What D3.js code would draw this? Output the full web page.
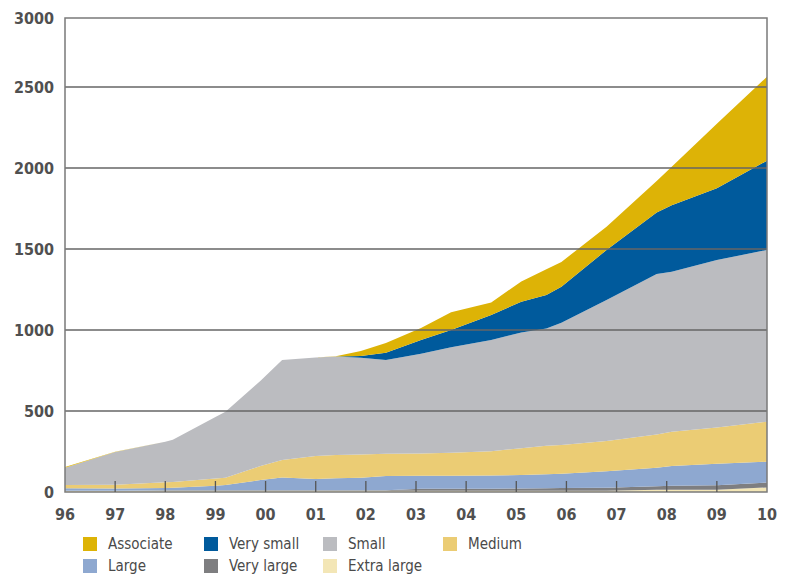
<!DOCTYPE html>
<html>
<head>
<meta charset="utf-8">
<script src="https://cdn.jsdelivr.net/npm/d3@7"></script>
<style>
  html, body { margin: 0; padding: 0; background: #fff; }
  svg { display: block; }
</style>
</head>
<body>
<svg id="chart" width="793" height="577"></svg>
<script>
// ---- Data ----
const years = [1996, 1997, 1998, 1998.15, 1999, 1999.2, 1999.9, 2000.33, 2001, 2001.4, 2001.9, 2002.4,
               2003.1, 2003.7, 2004.5, 2005.1, 2005.6, 2005.9, 2006.8, 2007.8, 2008.1, 2009, 2010];
const extraLarge = [8, 8, 8, 8, 8, 8, 8, 8, 8, 8, 8, 8, 8, 8, 8, 8, 8, 8, 8, 14, 14, 14, 28];
const veryLarge  = [0, 0, 3, 3, 3, 3, 3, 3, 3, 3, 3, 3, 12, 12, 12, 14, 15, 16, 18, 22, 25, 28, 30];
const large      = [15, 14, 14, 16, 27, 32, 63, 79, 69, 74, 77, 87, 80, 80, 82, 83, 87, 88, 102, 114, 121, 133, 129];
const medium     = [20, 23, 35, 35, 46, 45, 86, 108, 142, 143, 144, 138, 138, 143, 150, 165, 175, 178, 187, 205, 212, 223, 247];
const small      = [107, 202, 250, 260, 379, 408, 527, 617, 609, 608, 596, 579, 616, 650, 686, 715, 725, 755, 870, 991, 988, 1034, 1060];
const verySmall  = [0, 0, 0, 0, 0, 0, 0, 0, 0, 0, 12, 45, 84, 107, 155, 190, 206, 222, 309, 379, 410, 443, 551];
const associate  = [4, 1, 0, 0, 0, 0, 0, 0, 0, 2, 30, 60, 74, 110, 77, 125, 159, 153, 144, 195, 238, 398, 529];

const seriesNames = ["Extra large", "Very large", "Large", "Medium", "Small", "Very small", "Associate"];
const seriesColors = ["#F3E6B6", "#7E7E80", "#8EA8D0", "#EBCC74", "#BBBCC0", "#005A9C", "#DDB306"];
const seriesValues = [extraLarge, veryLarge, large, medium, small, verySmall, associate];

const xTickYears = [1996, 1997, 1998, 1999, 2000, 2001, 2002, 2003, 2004, 2005, 2006, 2007, 2008, 2009, 2010];
const xTickLabels = ["96", "97", "98", "99", "00", "01", "02", "03", "04", "05", "06", "07", "08", "09", "10"];
const yTicks = [0, 500, 1000, 1500, 2000, 2500, 3000];

const legendRows = [
  ["Associate", "Very small", "Small", "Medium"],
  ["Large", "Very large", "Extra large"]
];

(function () {
  const table = years.map((yr, i) => {
    const row = { year: yr };
    seriesNames.forEach((n, k) => { row[n] = seriesValues[k][i]; });
    return row;
  });

  const svg = d3.select("#chart");
  const pLeft = 65, pRight = 767, pTop = 18, pBottom = 492;

  const x = d3.scaleLinear().domain([1996, 2010]).range([pLeft, pRight]);
  const y = d3.scaleLinear().domain([0, 2500, 3000]).range([pBottom, 87, pTop]);

  const layers = d3.stack().keys(seriesNames)(table);

  const area = d3.area()
    .x(d => x(d.data.year))
    .y0(d => y(d[0]))
    .y1(d => y(d[1]));

  const colorOf = n => seriesColors[seriesNames.indexOf(n)];

  svg.append("g").selectAll("path")
    .data(layers)
    .join("path")
    .attr("d", area)
    .attr("fill", d => colorOf(d.key));

  // Gridlines (on top of areas)
  svg.append("g").selectAll("line")
    .data(yTicks.filter(v => v > 0 && v < 3000))
    .join("line")
    .attr("x1", pLeft).attr("x2", pRight)
    .attr("y1", d => y(d)).attr("y2", d => y(d))
    .attr("stroke", "#666").attr("stroke-width", 1.3);

  // Frame
  svg.append("rect")
    .attr("x", pLeft).attr("y", pTop)
    .attr("width", pRight - pLeft).attr("height", pBottom - pTop)
    .attr("fill", "none").attr("stroke", "#7a7a7a").attr("stroke-width", 1.5);

  // X ticks (inward, pointing up)
  svg.append("g").selectAll("line")
    .data(xTickYears.slice(1, -1))
    .join("line")
    .attr("x1", d => x(d)).attr("x2", d => x(d))
    .attr("y1", pBottom).attr("y2", pBottom - 11)
    .attr("stroke", "#555").attr("stroke-width", 1.3);

  const fontFam = "'DejaVu Sans Condensed', 'DejaVu Sans', sans-serif";

  // X labels
  svg.append("g").selectAll("text")
    .data(xTickYears)
    .join("text")
    .attr("x", d => x(d))
    .attr("y", 520)
    .attr("text-anchor", "middle")
    .attr("font-family", fontFam)
    .attr("font-weight", "bold")
    .attr("font-size", 16)
    .attr("fill", "#505050")
    .text((d, i) => xTickLabels[i]);

  // Y labels
  svg.append("g").selectAll("text")
    .data(yTicks)
    .join("text")
    .attr("x", 54)
    .attr("y", d => y(d))
    .attr("dy", "0.36em")
    .attr("text-anchor", "end")
    .attr("font-family", fontFam)
    .attr("font-weight", "bold")
    .attr("font-size", 16)
    .attr("fill", "#505050")
    .text(d => d);

  // Legend
  const colX = [83, 204, 323, 443];
  const rowY = [537, 559];
  legendRows.forEach((row, r) => {
    row.forEach((name, c) => {
      const g = svg.append("g");
      g.append("rect")
        .attr("x", colX[c]).attr("y", rowY[r])
        .attr("width", 14).attr("height", 14)
        .attr("fill", colorOf(name));
      g.append("text")
        .attr("x", colX[c] + 25)
        .attr("y", rowY[r] + 12)
        .attr("font-family", fontFam)
        .attr("font-size", 15)
        .attr("fill", "#4a4a4a")
        .text(name);
    });
  });
})();
</script>
</body>
</html>
